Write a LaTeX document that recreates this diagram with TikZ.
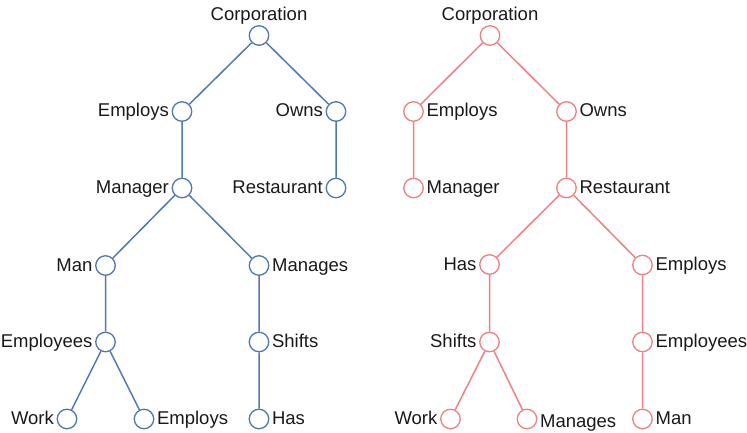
\documentclass[tikz,border=0pt]{standalone}
\usepackage{fontspec}
\setmainfont{Liberation Sans}
\definecolor{treeblue}{RGB}{79,120,184}
\definecolor{treepink}{RGB}{240,128,132}
\begin{document}
\begin{tikzpicture}[x=1pt,y=-1pt,
  every label/.style={font=\fontsize{18.5}{22}\selectfont, text=black!90,
    inner xsep=2.5pt, inner ysep=0pt, text height=13pt, text depth=0pt},
  vert/.style={circle, draw, line width=1.3pt, minimum size=19.5pt, inner sep=0pt, fill=white},
  bnode/.style={vert, draw=treeblue},
  pnode/.style={vert, draw=treepink},
  bedge/.style={draw=treeblue, line width=1.5pt},
  pedge/.style={draw=treepink, line width=1.5pt},
  L/.style={label={[yshift=1pt]left:#1}},
  R/.style={label={[yshift=1pt]right:#1}},
  T/.style={label={[inner ysep=4.5pt]above:#1}}]
\useasboundingbox (0,0) rectangle (747,433);

% Left tree (blue)
\node[bnode,T=Corporation] (lc)  at (259,35.5) {};
\node[bnode,L=Employs]     (le)  at (182,111.5) {};
\node[bnode,L=Owns]        (lo)  at (336,111.5) {};
\node[bnode,L=Manager]     (lm)  at (182,188) {};
\node[bnode,L=Restaurant]  (lr)  at (336,188) {};
\node[bnode,L=Man]         (lman) at (105.5,265.5) {};
\node[bnode,R=Manages]     (lmg) at (259,265.5) {};
\node[bnode,L=Employees]   (lemp) at (105.5,342) {};
\node[bnode,R=Shifts]      (ls)  at (259,342) {};
\node[bnode,L=Work]        (lw)  at (67,419) {};
\node[bnode,R=Employs]     (le2) at (144,419) {};
\node[bnode,R=Has]         (lh)  at (259,419) {};

\path[bedge] (lc) -- (le) (lc) -- (lo) (le) -- (lm) (lo) -- (lr)
  (lm) -- (lman) (lm) -- (lmg) (lman) -- (lemp) (lmg) -- (ls)
  (lemp) -- (lw) (lemp) -- (le2) (ls) -- (lh);

% Right tree (pink)
\node[pnode,T=Corporation] (rc)  at (490,35.5) {};
\node[pnode,R=Employs]     (re)  at (413.5,111.5) {};
\node[pnode,R=Owns]        (ro)  at (566.5,111.5) {};
\node[pnode,R=Manager]     (rm)  at (413.5,188) {};
\node[pnode,R=Restaurant]  (rr)  at (566.5,188) {};
\node[pnode,L=Has]         (rh)  at (489.5,264.5) {};
\node[pnode,R=Employs]     (re2) at (642.5,265) {};
\node[pnode,L=Shifts]      (rs)  at (489.5,342) {};
\node[pnode,R=Employees]   (remp) at (642.5,342) {};
\node[pnode,L=Work]        (rw)  at (450.5,419) {};
\node[pnode,label={[yshift=-1.5pt]right:Manages}] (rmg) at (527,419) {};
\node[pnode,R=Man]         (rman) at (642.5,419) {};

\path[pedge] (rc) -- (re) (rc) -- (ro) (re) -- (rm) (ro) -- (rr)
  (rr) -- (rh) (rr) -- (re2) (rh) -- (rs) (re2) -- (remp)
  (rs) -- (rw) (rs) -- (rmg) (remp) -- (rman);
\end{tikzpicture}
\end{document}
